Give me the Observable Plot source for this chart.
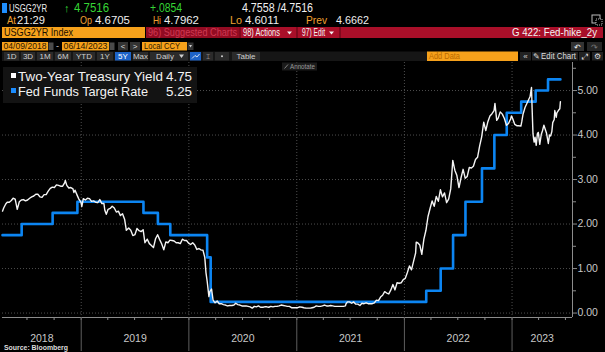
<!DOCTYPE html>
<html>
<head>
<meta charset="utf-8">
<script src="https://cdn.jsdelivr.net/npm/d3@7"></script>
<script src="https://cdn.jsdelivr.net/npm/@observablehq/plot@0.6"></script>
<style>
html,body{margin:0;padding:0;background:#000;}
#wrap{position:relative;width:605px;height:352px;overflow:hidden;background:#000;}
#wrap svg{position:absolute;left:0;top:0;}
</style>
</head>
<body>
<div id="wrap">
<div id="chart"></div>
<svg id="hdr" width="605" height="352" style="pointer-events:none" font-family="Liberation Sans, Arial, sans-serif">
  <!-- row 1 -->
  <rect x="2" y="3" width="5" height="10" fill="#1f8fff"/>
  <text x="9" y="12" fill="#f0f0f0" font-size="11" textLength="38" lengthAdjust="spacingAndGlyphs">USGG2YR</text>
  <text x="64" y="12" fill="#35d535" font-size="11">↑</text>
  <text x="74" y="12" fill="#35d535" font-size="12" textLength="35" lengthAdjust="spacingAndGlyphs">4.7516</text>
  <text x="150" y="12" fill="#35d535" font-size="12" textLength="32" lengthAdjust="spacingAndGlyphs">+.0854</text>
  <text x="242" y="12" fill="#f0f0f0" font-size="12" textLength="71" lengthAdjust="spacingAndGlyphs">4.7558 /4.7516</text>
  <!-- row 2 -->
  <text x="7" y="24" fill="#f0a030" font-size="11.5" textLength="9" lengthAdjust="spacingAndGlyphs">At</text>
  <text x="17" y="24" fill="#eeeeee" font-size="11.5" textLength="28" lengthAdjust="spacingAndGlyphs">21:29</text>
  <text x="80" y="24" fill="#f0a030" font-size="11.5" textLength="12" lengthAdjust="spacingAndGlyphs">Op</text>
  <text x="95" y="24" fill="#eeeeee" font-size="11.5" textLength="35" lengthAdjust="spacingAndGlyphs">4.6705</text>
  <text x="153" y="24" fill="#f0a030" font-size="11.5" textLength="8" lengthAdjust="spacingAndGlyphs">Hi</text>
  <text x="164" y="24" fill="#eeeeee" font-size="11.5" textLength="35" lengthAdjust="spacingAndGlyphs">4.7962</text>
  <text x="230" y="24" fill="#f0a030" font-size="11.5" textLength="12" lengthAdjust="spacingAndGlyphs">Lo</text>
  <text x="245" y="24" fill="#eeeeee" font-size="11.5" textLength="34" lengthAdjust="spacingAndGlyphs">4.6011</text>
  <text x="306" y="24" fill="#f0a030" font-size="11.5" textLength="21" lengthAdjust="spacingAndGlyphs">Prev</text>
  <text x="336" y="24" fill="#eeeeee" font-size="11.5" textLength="33" lengthAdjust="spacingAndGlyphs">4.6662</text>
  <rect x="592" y="15" width="8" height="8" fill="none" stroke="#bbbbbb" stroke-width="1"/>
  <rect x="596" y="19" width="6" height="6" fill="#000" stroke="#bbbbbb" stroke-width="1" stroke-dasharray="1,1"/>
  <!-- row 3 -->
  <rect x="2" y="27" width="143" height="11" fill="#f6a11b"/>
  <text x="4" y="36" fill="#1a0f00" font-size="10.5" textLength="69" lengthAdjust="spacingAndGlyphs">USGG2YR Index</text>
  <rect x="146" y="27" width="457" height="11" fill="#a90f29"/>
  <rect x="146" y="27" width="93" height="11" fill="#930b22"/>
  <text x="148" y="36" fill="#cf3a52" font-size="10" textLength="89" lengthAdjust="spacingAndGlyphs">96) Suggested Charts</text>
  <rect x="239.5" y="27" width="1" height="11" fill="#5a0512"/>
  <rect x="296.5" y="27" width="1" height="11" fill="#5a0512"/>
  <rect x="339.5" y="27" width="1" height="11" fill="#5a0512"/>
  <text x="243" y="36" fill="#f4f4f4" font-size="10" textLength="37" lengthAdjust="spacingAndGlyphs">98) Actions</text>
  <polygon points="287,31.5 292,31.5 289.5,34.5" fill="#f4f4f4"/>
  <text x="302" y="36" fill="#f4f4f4" font-size="10" textLength="23" lengthAdjust="spacingAndGlyphs">97) Edit</text>
  <polygon points="329,31.5 334,31.5 331.5,34.5" fill="#f4f4f4"/>
  <text x="597" y="36" fill="#f4f4f4" font-size="10.5" text-anchor="end" textLength="85" lengthAdjust="spacingAndGlyphs">G 422: Fed-hike_2y</text>
  <!-- row 4 -->
  <rect x="2" y="42" width="46" height="8.5" fill="#f6a11b"/>
  <text x="3.5" y="49" fill="#2b1800" font-size="9" textLength="43" lengthAdjust="spacingAndGlyphs">04/09/2018</text>
  <rect x="48.5" y="42.5" width="5" height="7.5" fill="#4a4a4a"/>
  <text x="56" y="49" fill="#cccccc" font-size="9">-</text>
  <rect x="62" y="42" width="47" height="8.5" fill="#f6a11b"/>
  <text x="63.5" y="49" fill="#2b1800" font-size="9" textLength="44" lengthAdjust="spacingAndGlyphs">06/14/2023</text>
  <rect x="109.5" y="42.5" width="5" height="7.5" fill="#4a4a4a"/>
  <rect x="118" y="42" width="10" height="8.5" fill="#333333"/>
  <text x="123" y="49" fill="#dddddd" font-size="8" text-anchor="middle">&lt;</text>
  <rect x="130" y="42" width="10" height="8.5" fill="#333333"/>
  <text x="135" y="49" fill="#dddddd" font-size="8" text-anchor="middle">&gt;</text>
  <rect x="142" y="42" width="45" height="8.5" fill="#f6a11b"/>
  <text x="144" y="49" fill="#2b1800" font-size="9" textLength="36" lengthAdjust="spacingAndGlyphs">Local CCY</text>
  <rect x="187.5" y="42.5" width="6" height="7.5" fill="#333333"/>
  <polygon points="189,45 192,45 190.5,47.5" fill="#cccccc"/>
  <rect x="571" y="42" width="13" height="9" fill="#333333"/>
  <text x="577.5" y="49.5" fill="#eeeeee" font-size="8" text-anchor="middle">↶</text>
  <rect x="587" y="42" width="15" height="9" fill="#262626"/>
  <text x="594.5" y="49.5" fill="#777777" font-size="8" text-anchor="middle">↷</text>
  <!-- row 5 -->
  <rect x="2" y="51.5" width="426" height="9.5" fill="#161616"/>
  <g font-size="8" fill="#cfcfcf" text-anchor="middle">
    <rect x="4" y="52" width="15" height="8.5" fill="#2b2b2b"/><text x="11.5" y="59">1D</text>
    <rect x="21" y="52" width="14" height="8.5" fill="#2b2b2b"/><text x="28" y="59">3D</text>
    <rect x="37" y="52" width="16" height="8.5" fill="#2b2b2b"/><text x="45" y="59">1M</text>
    <rect x="55" y="52" width="16" height="8.5" fill="#2b2b2b"/><text x="63" y="59">6M</text>
    <rect x="73" y="52" width="22" height="8.5" fill="#2b2b2b"/><text x="84" y="59">YTD</text>
    <rect x="97" y="52" width="16" height="8.5" fill="#2b2b2b"/><text x="105" y="59">1Y</text>
    <rect x="115" y="52" width="16" height="8.5" fill="#1d63c8"/><text x="123" y="59" fill="#ffffff">5Y</text>
    <rect x="133" y="52" width="15" height="8.5" fill="#2b2b2b"/><text x="140.5" y="59">Max</text>
    <rect x="150" y="52" width="38" height="8.5" fill="#2b2b2b"/><text x="165" y="59">Daily</text>
    <polygon points="179,54.5 184,54.5 181.5,58" fill="#cfcfcf"/>
    <rect x="190" y="52" width="11" height="8.5" fill="#1d63c8"/>
    <polyline points="192,58.5 195,55.5 197,57 199.5,54" fill="none" stroke="#ffffff" stroke-width="0.8"/>
    <rect x="203" y="52" width="10" height="8.5" fill="#2b2b2b"/><text x="208" y="59" font-size="7">⌶</text>
    <rect x="215" y="52" width="14" height="8.5" fill="#2b2b2b"/><circle cx="222" cy="56.3" r="1" fill="#cfcfcf"/>
    <rect x="232" y="52" width="28" height="8.5" fill="#2b2b2b"/><text x="246" y="59">Table</text>
  </g>
  <rect x="427" y="51.5" width="91" height="9.5" fill="#f6a11b"/>
  <text x="429" y="59" fill="#b86a00" font-size="8.5" textLength="31" lengthAdjust="spacingAndGlyphs">Add Data</text>
  <rect x="520" y="52" width="11" height="8.5" fill="#222222"/>
  <text x="525.5" y="59" fill="#cfcfcf" font-size="8" text-anchor="middle">«</text>
  <rect x="532" y="52" width="46" height="8.5" fill="#222222"/>
  <text x="533" y="59" fill="#dddddd" font-size="8">✎</text>
  <text x="541" y="59" fill="#dddddd" font-size="8.5" textLength="35" lengthAdjust="spacingAndGlyphs">Edit Chart</text>
  <rect x="579" y="52" width="11" height="8.5" fill="#222222"/>
  <text x="584.5" y="59" fill="#dddddd" font-size="8" text-anchor="middle">⤢</text>
  <rect x="592" y="52" width="11" height="8.5" fill="#222222"/>
  <text x="597.5" y="59" fill="#dddddd" font-size="8" text-anchor="middle">⚙</text>
  <!-- annotate -->
  <rect x="282" y="62.5" width="35" height="8" fill="#1b1b1b"/>
  <line x1="284.5" y1="68.5" x2="288" y2="64.5" stroke="#9a9a9a" stroke-width="0.8"/>
  <text x="290" y="69" fill="#9a9a9a" font-size="7" textLength="25" lengthAdjust="spacingAndGlyphs">Annotate</text>
  <!-- legend -->
  <rect x="3" y="67" width="194" height="36" fill="#131313"/>
  <rect x="11" y="73" width="5" height="5" fill="#ffffff"/>
  <rect x="11" y="88" width="5" height="5" fill="#1a8cff"/>
  <text x="18" y="80.5" fill="#f2f2f2" font-size="13" textLength="145" lengthAdjust="spacingAndGlyphs">Two-Year Treasury Yield</text>
  <text x="192" y="80.5" fill="#f2f2f2" font-size="13" text-anchor="end" textLength="26" lengthAdjust="spacingAndGlyphs">4.75</text>
  <text x="18" y="95.5" fill="#f2f2f2" font-size="13" textLength="130" lengthAdjust="spacingAndGlyphs">Fed Funds Target Rate</text>
  <text x="192" y="95.5" fill="#f2f2f2" font-size="13" text-anchor="end" textLength="26" lengthAdjust="spacingAndGlyphs">5.25</text>
  <!-- source -->
  <text x="4" y="350" fill="#dddddd" font-size="7" font-weight="bold" textLength="64" lengthAdjust="spacingAndGlyphs">Source: Bloomberg</text>
</svg>
</div>
<script>
// ---------------- data ----------------
const yearLabels = ["2018", "2019", "2020", "2021", "2022", "2023"];
const yTicks = [0, 1, 2, 3, 4, 5];
const yMinorTicks = [0.5, 1.5, 2.5, 3.5, 4.5, 5.5];
const xDomain = ["2018-04-09", "2023-07-25"];
const yDomain = [-0.1, 5.63];

// Fed funds target rate (upper bound), step changes
const fedDates = ["2018-04-09","2018-06-13","2018-09-26","2018-12-19","2019-07-31","2019-09-18","2019-10-30","2020-03-03","2020-03-15","2022-03-16","2022-05-04","2022-06-15","2022-07-27","2022-09-21","2022-11-02","2022-12-14","2023-02-01","2023-03-22","2023-05-03","2023-06-14"];
const fedValues = [1.75,2.00,2.25,2.50,2.25,2.00,1.75,1.25,0.25,0.50,1.00,1.75,2.50,3.25,4.00,4.50,4.75,5.00,5.25,5.25];

// Two-year Treasury yield
const yield2018 = [["2018-04-09",2.29],["2018-04-13",2.36],["2018-04-20",2.45],["2018-04-25",2.49],["2018-05-02",2.49],["2018-05-09",2.53],["2018-05-15",2.58],["2018-05-22",2.56],["2018-05-29",2.33],["2018-06-05",2.50],["2018-06-12",2.54],["2018-06-19",2.55],["2018-06-26",2.52],["2018-07-03",2.54],["2018-07-10",2.58],["2018-07-17",2.61],["2018-07-24",2.63],["2018-07-31",2.67],["2018-08-07",2.67],["2018-08-14",2.61],["2018-08-21",2.60],["2018-08-28",2.66],["2018-09-04",2.66],["2018-09-11",2.74],["2018-09-18",2.80],["2018-09-25",2.83],["2018-10-02",2.82],["2018-10-09",2.88],["2018-10-16",2.87],["2018-10-23",2.85],["2018-10-30",2.85],["2018-11-06",2.93],["2018-11-08",2.98],["2018-11-13",2.87],["2018-11-20",2.81],["2018-11-27",2.82],["2018-12-04",2.79],["2018-12-07",2.71],["2018-12-11",2.76],["2018-12-18",2.65],["2018-12-24",2.56],["2018-12-31",2.49]];
const yield2019 = [["2019-01-03",2.39],["2019-01-08",2.57],["2019-01-15",2.54],["2019-01-22",2.58],["2019-01-29",2.57],["2019-02-05",2.51],["2019-02-12",2.52],["2019-02-19",2.49],["2019-02-26",2.48],["2019-03-05",2.55],["2019-03-12",2.46],["2019-03-19",2.46],["2019-03-22",2.31],["2019-03-27",2.22],["2019-04-02",2.33],["2019-04-09",2.35],["2019-04-16",2.40],["2019-04-23",2.36],["2019-04-30",2.27],["2019-05-07",2.29],["2019-05-14",2.19],["2019-05-21",2.23],["2019-05-28",2.11],["2019-06-03",1.86],["2019-06-11",1.91],["2019-06-18",1.86],["2019-06-25",1.74],["2019-07-02",1.76],["2019-07-09",1.90],["2019-07-16",1.85],["2019-07-23",1.83],["2019-07-30",1.87],["2019-08-05",1.58],["2019-08-13",1.66],["2019-08-20",1.56],["2019-08-27",1.52],["2019-09-03",1.47],["2019-09-10",1.67],["2019-09-17",1.76],["2019-09-24",1.65],["2019-10-01",1.55],["2019-10-08",1.42],["2019-10-15",1.60],["2019-10-22",1.58],["2019-10-29",1.64],["2019-11-05",1.63],["2019-11-12",1.62],["2019-11-19",1.58],["2019-11-26",1.58],["2019-12-03",1.56],["2019-12-10",1.66],["2019-12-17",1.63],["2019-12-24",1.63],["2019-12-31",1.57]];
const yield2020 = [["2020-01-07",1.54],["2020-01-14",1.58],["2020-01-21",1.53],["2020-01-28",1.43],["2020-02-04",1.45],["2020-02-11",1.42],["2020-02-18",1.41],["2020-02-24",1.25],["2020-02-28",0.91],["2020-03-03",0.72],["2020-03-09",0.37],["2020-03-12",0.48],["2020-03-18",0.54],["2020-03-23",0.29],["2020-03-30",0.23],["2020-04-06",0.27],["2020-04-13",0.21],["2020-04-20",0.21],["2020-04-27",0.19],["2020-05-04",0.18],["2020-05-11",0.16],["2020-05-18",0.17],["2020-05-26",0.17],["2020-06-02",0.18],["2020-06-08",0.22],["2020-06-15",0.19],["2020-06-22",0.18],["2020-06-29",0.16],["2020-07-06",0.16],["2020-07-13",0.16],["2020-07-20",0.15],["2020-07-27",0.14],["2020-08-03",0.11],["2020-08-10",0.15],["2020-08-17",0.14],["2020-08-24",0.16],["2020-08-31",0.13],["2020-09-08",0.13],["2020-09-14",0.14],["2020-09-21",0.14],["2020-09-28",0.13],["2020-10-05",0.15],["2020-10-12",0.14],["2020-10-19",0.15],["2020-10-26",0.15],["2020-11-02",0.16],["2020-11-09",0.18],["2020-11-16",0.17],["2020-11-23",0.16],["2020-11-30",0.15],["2020-12-07",0.15],["2020-12-14",0.12],["2020-12-21",0.12],["2020-12-28",0.12]];
const yield2021 = [["2021-01-04",0.12],["2021-01-11",0.14],["2021-01-19",0.13],["2021-01-25",0.12],["2021-02-01",0.11],["2021-02-08",0.11],["2021-02-16",0.11],["2021-02-22",0.12],["2021-03-01",0.13],["2021-03-08",0.16],["2021-03-15",0.15],["2021-03-22",0.15],["2021-03-29",0.16],["2021-04-05",0.18],["2021-04-12",0.16],["2021-04-19",0.16],["2021-04-26",0.17],["2021-05-03",0.16],["2021-05-10",0.15],["2021-05-17",0.15],["2021-05-24",0.15],["2021-06-01",0.15],["2021-06-08",0.15],["2021-06-15",0.16],["2021-06-17",0.21],["2021-06-22",0.25],["2021-06-29",0.25],["2021-07-06",0.22],["2021-07-13",0.25],["2021-07-20",0.20],["2021-07-27",0.20],["2021-08-03",0.17],["2021-08-10",0.22],["2021-08-17",0.21],["2021-08-24",0.23],["2021-08-31",0.21],["2021-09-07",0.21],["2021-09-14",0.21],["2021-09-21",0.23],["2021-09-28",0.29],["2021-10-05",0.28],["2021-10-12",0.36],["2021-10-19",0.40],["2021-10-26",0.48],["2021-11-02",0.45],["2021-11-09",0.43],["2021-11-16",0.52],["2021-11-23",0.64],["2021-11-30",0.52],["2021-12-07",0.68],["2021-12-14",0.67],["2021-12-21",0.68],["2021-12-28",0.75]];
const yield2022 = [["2022-01-04",0.78],["2022-01-11",0.91],["2022-01-18",1.06],["2022-01-25",0.97],["2022-02-01",1.16],["2022-02-08",1.35],["2022-02-10",1.59],["2022-02-15",1.58],["2022-02-22",1.53],["2022-03-01",1.32],["2022-03-08",1.66],["2022-03-15",1.86],["2022-03-22",2.17],["2022-03-29",2.35],["2022-04-05",2.52],["2022-04-12",2.40],["2022-04-19",2.62],["2022-04-26",2.51],["2022-05-03",2.77],["2022-05-10",2.61],["2022-05-17",2.70],["2022-05-24",2.48],["2022-05-31",2.56],["2022-06-07",2.79],["2022-06-10",3.06],["2022-06-14",3.43],["2022-06-21",3.21],["2022-06-28",3.09],["2022-07-05",2.82],["2022-07-12",3.04],["2022-07-19",3.23],["2022-07-26",3.03],["2022-08-02",3.07],["2022-08-09",3.27],["2022-08-16",3.26],["2022-08-23",3.30],["2022-08-30",3.45],["2022-09-06",3.50],["2022-09-13",3.75],["2022-09-20",3.96],["2022-09-27",4.29],["2022-10-04",4.10],["2022-10-11",4.30],["2022-10-18",4.43],["2022-10-25",4.48],["2022-11-01",4.55],["2022-11-04",4.71],["2022-11-10",4.33],["2022-11-15",4.38],["2022-11-22",4.52],["2022-11-29",4.47],["2022-12-06",4.37],["2022-12-13",4.22],["2022-12-20",4.26],["2022-12-27",4.36],["2022-12-30",4.43]];
const yield2023 = [["2023-01-03",4.37],["2023-01-10",4.24],["2023-01-17",4.21],["2023-01-24",4.21],["2023-01-31",4.20],["2023-02-03",4.30],["2023-02-07",4.46],["2023-02-14",4.62],["2023-02-21",4.72],["2023-02-28",4.82],["2023-03-03",4.86],["2023-03-08",5.07],["2023-03-10",4.60],["2023-03-13",4.03],["2023-03-15",3.92],["2023-03-17",3.84],["2023-03-20",3.95],["2023-03-24",3.77],["2023-03-28",4.03],["2023-03-31",4.06],["2023-04-05",3.79],["2023-04-10",4.01],["2023-04-14",4.09],["2023-04-19",4.22],["2023-04-24",4.12],["2023-04-28",4.04],["2023-05-04",3.81],["2023-05-08",4.00],["2023-05-12",3.98],["2023-05-16",4.08],["2023-05-19",4.28],["2023-05-24",4.35],["2023-05-26",4.55],["2023-05-31",4.40],["2023-06-02",4.50],["2023-06-07",4.55],["2023-06-12",4.59],["2023-06-14",4.75]];

// ---------------- build ----------------
const parse = d3.utcParse("%Y-%m-%d");
const X0 = parse(xDomain[0]), X1 = parse(xDomain[1]);
const fedData = fedDates.map((d, i) => ({date: parse(d), value: fedValues[i]}));
const yieldData = [...yield2018, ...yield2019, ...yield2020, ...yield2021, ...yield2022, ...yield2023]
  .map(([d, v]) => ({date: parse(d), value: v}));
const yearStarts = yearLabels.slice(1).map(y => parse(y + "-01-01"));
const quarterTicks = d3.utcMonth.every(3).range(X0, X1);
const yearText = yearLabels.map(y => {
  const s = Math.max(+X0, +parse(y + "-01-01"));
  const e = Math.min(+X1, +parse((+y + 1) + "-01-01"));
  return {date: new Date((s + e) / 2), label: y};
});

const axisColor = "#8c8c8c";
const gridColor = "#4e4e4e";
const chart = Plot.plot({
  width: 605,
  height: 352,
  marginTop: 62,
  marginBottom: 35,
  marginLeft: 2,
  marginRight: 33,
  style: {background: "transparent", color: "#c8c8c8", fontFamily: "Liberation Sans, Arial, sans-serif", fontSize: "10.5px"},
  x: {type: "utc", domain: [X0, X1], label: null},
  y: {domain: yDomain, label: null},
  marks: [
    Plot.gridY(yTicks, {stroke: gridColor, strokeOpacity: 1, strokeDasharray: "1,2"}),
    Plot.gridX(yearStarts, {stroke: gridColor, strokeOpacity: 1, strokeDasharray: "1,2"}),
    Plot.ruleY([yDomain[0]], {stroke: axisColor}),
    Plot.ruleX([X1], {stroke: axisColor}),
    Plot.axisX(quarterTicks, {tickSize: 3, tickFormat: () => "", stroke: axisColor}),
    Plot.axisX(yearStarts, {tickSize: 34, tickFormat: () => "", stroke: "#5e5e5e"}),
    Plot.text(yearText, {x: "date", y: yDomain[0], dy: 21, text: "label", fill: "#c8c8c8", fontSize: 10.5}),
    Plot.axisY(yTicks, {anchor: "right", tickSize: 4, tickPadding: 1, tickFormat: d3.format(".2f"), stroke: axisColor, fill: "#c8c8c8", fontSize: 10.5}),
    Plot.axisY(yMinorTicks, {anchor: "right", tickSize: 3, tickFormat: () => "", stroke: axisColor}),
    Plot.line(fedData, {x: "date", y: "value", curve: "step-after", stroke: "#0c85f2", strokeWidth: 2.6}),
    Plot.line(yieldData, {x: "date", y: "value", stroke: "#f4f4f4", strokeWidth: 1.4})
  ]
});
document.getElementById("chart").appendChild(chart);
</script>
</body>
</html>
